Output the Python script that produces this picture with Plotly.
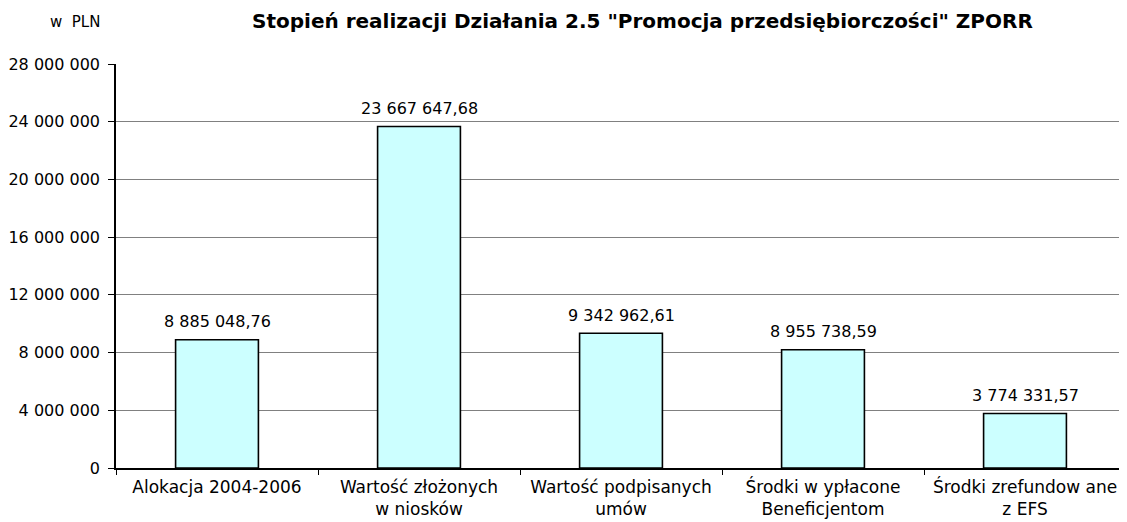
import plotly.graph_objects as go

categories = ["Alokacja 2004-2006", "Wartość złożonych<br>w niosków", "Wartość podpisanych<br>umów",
              "Środki w ypłacone<br>Beneficjentom", "Środki zrefundow ane<br>z EFS"]
values = [8885048.76, 23667647.68, 9342962.61, 8200000, 3774331.57]
value_labels = ["8 885 048,76", "23 667 647,68", "9 342 962,61", "8 955 738,59", "3 774 331,57"]
tick_vals = [0, 4000000, 8000000, 12000000, 16000000, 20000000, 24000000, 28000000]
tick_text = ["0", "4 000 000", "8 000 000", "12 000 000", "16 000 000", "20 000 000", "24 000 000", "28 000 000"]

FONT = "DejaVu Sans, Verdana, sans-serif"

# page body has an 8px margin, so the figure is placed at (8, 8) in the window
W, H = 1119, 514
ML, MR, MT, MB = 108, 1, 56, 54
PW, PH = W - ML - MR, H - MT - MB

def px(xw):
    return (xw - 8 - ML) / PW

def py(yw):
    return 1 - (yw - 8 - MT) / PH

fig = go.Figure()
fig.add_trace(go.Bar(
    x=categories, y=values,
    marker=dict(color="#CCFFFF", line=dict(color="#000000", width=1.6)),
    width=0.41,
    hoverinfo="skip",
))

for c, v, t in zip(categories, values, value_labels):
    fig.add_annotation(x=c, y=v, text=t, showarrow=False, xref="x", yref="y",
                       yanchor="middle", yshift=18,
                       font=dict(family=FONT, size=16, color="#000"))

fig.add_annotation(text="<b>Stopień realizacji Działania 2.5 \"Promocja przedsiębiorczości\" ZPORR</b>",
                   x=px(642), y=py(21), xref="paper", yref="paper",
                   xanchor="center", yanchor="middle", showarrow=False,
                   font=dict(family=FONT, size=20, color="#000"))
fig.add_annotation(text="w  PLN", x=px(75), y=py(22),
                   xref="paper", yref="paper", xanchor="center", yanchor="middle", showarrow=False,
                   font=dict(family=FONT, size=15, color="#000"))

fig.update_layout(
    width=W, height=H,
    margin=dict(l=ML, r=MR, t=MT, b=MB, autoexpand=False),
    paper_bgcolor="white", plot_bgcolor="white",
    showlegend=False,
    xaxis=dict(
        showline=True, linecolor="#000", linewidth=1.5,
        ticks="outside", tickson="boundaries", ticklen=5, tickcolor="#000",
        ticklabelstandoff=3,
        tickfont=dict(family=FONT, size=17, color="#000"),
        showgrid=False, automargin=False,
    ),
    yaxis=dict(
        range=[0, 28000000], tickvals=tick_vals, ticktext=tick_text,
        showline=True, linecolor="#000", linewidth=1.5,
        ticks="outside", ticklen=6, tickcolor="#000", ticklabelstandoff=5,
        tickfont=dict(family=FONT, size=16, color="#000"),
        showgrid=True, gridcolor="#808080", gridwidth=1,
        zeroline=False, automargin=False,
    ),
)

fig.write_html("out.html")
